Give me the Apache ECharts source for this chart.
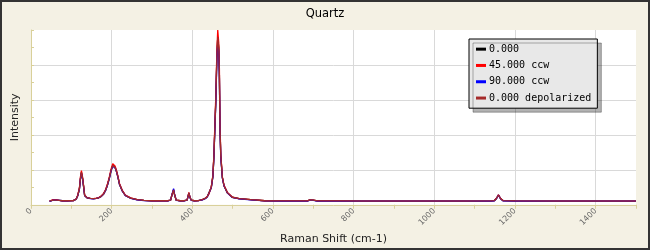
<!DOCTYPE html>
<html>
<head>
<meta charset="utf-8">
<script src="https://cdn.jsdelivr.net/npm/echarts@6/dist/echarts.min.js"></script>
<style>
html,body{margin:0;padding:0;background:#f4f1e4;}
#chart{width:650px;height:250px;}
</style>
</head>
<body>
<div id="chart"></div>
<script>
// Raman shift (cm-1)
const shift = [46,55,62,70,78,90,105,112,116,120,122.5,125,126.7,128.2,130.7,133,139,147,155,162,168,174,180,185,189,194.5,198.8,202.7,205,208.7,212,215,219.4,226,234,247,263,280,300,320,340,346,350,353.5,356,360,370,380,387,391.5,394,397.5,405,415,425,432,437,441,447,451,453.7,456,458,461,463,465.4,467,468.6,470.5,474.5,478.5,487,499,516,545,580,620,660,685,692,696,700,710,760,820,900,1000,1080,1140,1149,1154,1159,1164,1170,1200,1300,1400,1500];

const int0 = [2.1,2.6,2.6,2.5,2.3,2.3,2.4,3.2,5.3,9,14.8,18.5,17.4,14.6,9.9,5.3,4,3.6,3.5,3.7,4,4.8,6.2,8.3,10.9,15.5,19.8,22.5,22.8,21.2,19,16.4,11.8,8.1,5.3,3.8,2.9,2.5,2.3,2.3,2.3,2.6,6,8.5,5.7,2.6,2.3,2.3,2.6,6.8,4.3,2.6,2.3,2.4,2.9,3.6,4.6,5.7,9.9,16.4,28.7,45,58,86,96,90,76,44,28,15.5,10.9,6.8,4.3,3.5,2.9,2.3,2.2,2.2,2.2,2.8,3.6,2.6,2.2,2.2,2.1,2.1,2.1,2.1,2.2,2.4,3.6,5.6,3.6,2.4,2.2,2.1,2.1,2.1];

const int45 = [2.1,2.9,2.9,2.5,2.3,2.3,2.4,3.3,5.6,9.6,15.8,19.6,18.8,15.4,10.4,5.6,4.1,3.6,3.5,3.8,4.1,5,6.5,8.7,11.4,16.2,20.6,23.5,23.7,22,19.6,16.9,12.2,8.4,5.5,3.9,2.9,2.5,2.3,2.3,2.3,2.6,6.1,8.7,5.8,2.6,2.3,2.3,2.6,7,4.4,2.6,2.3,2.4,2.9,3.7,4.8,6,10.3,17,30,47,61,89,100,93,80,46,29,16,11.3,7,4.4,3.5,2.9,2.3,2.2,2.2,2.2,2.8,3.7,2.6,2.2,2.2,2.1,2.1,2.1,2.1,2.2,2.4,3.7,5.7,3.7,2.4,2.2,2.1,2.1,2.1];

const int90 = [2.0,2.6,2.6,2.5,2.3,2.2,2.4,3.2,5.2,8.8,14.4,18,17,14.2,9.6,5.2,4,3.5,3.4,3.7,4,4.7,6.1,8.2,10.7,15.3,19.5,22.2,22.4,21,18.8,16.2,11.6,8,5.2,3.7,2.8,2.4,2.2,2.2,2.2,2.6,6.2,9.2,5.9,2.5,2.2,2.2,2.6,6.6,4.2,2.5,2.2,2.4,2.8,3.5,4.5,5.6,9.7,16,28,44,57,84,93,88,74,43,27,15.2,10.7,6.7,4.2,3.4,2.8,2.2,2.1,2.1,2.1,2.7,3.5,2.5,2.1,2.1,2.0,2.0,2.0,2.0,2.1,2.3,3.5,5.5,3.5,2.3,2.1,2.0,2.0,2.0];

const intDepol = int0.slice();

const seriesNames = ['0.000','45.000 ccw','90.000 ccw','0.000 depolarized'];
const seriesColors = ['#000000','#ff0000','#0000ff','#a52a2a'];
const seriesValues = [int0,int45,int90,intDepol];

const chart = echarts.init(document.getElementById('chart'), null, {renderer:'canvas'});
const tan = '#d9d09a';
chart.setOption({
  animation:false,
  backgroundColor:'#f4f1e4',
  title:{text:'Quartz',left:'center',top:3,textStyle:{fontFamily:'DejaVu Sans',fontSize:11.5,fontWeight:'normal',color:'#000'}},
  grid:{left:31,right:14,top:30,bottom:41,show:true,backgroundColor:'#ffffff',borderWidth:0},
  legend:{
    orient:'vertical',left:469,top:39,
    data:seriesNames,
    icon:'rect',itemWidth:10,itemHeight:3,itemGap:4,
    padding:[4,6,4,7],
    backgroundColor:'#e8e8e8',borderColor:'#000',borderWidth:1,
    shadowColor:'rgba(0,0,0,0.3)',shadowBlur:0,shadowOffsetX:4,shadowOffsetY:4,
    textStyle:{fontFamily:'DejaVu Sans Mono',fontSize:10,color:'#000',lineHeight:12.3,padding:[0,0,0,-2]}
  },
  xAxis:{
    type:'value',min:0,max:1500,interval:200,
    name:'Raman Shift (cm-1)',nameLocation:'middle',nameGap:27,
    nameTextStyle:{fontFamily:'DejaVu Sans',fontSize:11,color:'#222'},
    axisLine:{show:true,lineStyle:{color:tan,width:1}},
    axisTick:{show:true,inside:false,length:4,lineStyle:{color:tan}},
    minorTick:{show:true,splitNumber:2,length:4,lineStyle:{color:tan}},
    axisLabel:{rotate:45,fontSize:8,color:'#666',fontFamily:'DejaVu Sans',margin:5,showMaxLabel:false,formatter:v=>String(v)},
    splitLine:{show:true,showMinLine:false,showMaxLine:false,lineStyle:{color:'#d9d9d9',width:1}}
  },
  yAxis:{
    type:'value',min:0,max:100,interval:20,
    name:'Intensity',nameLocation:'middle',nameGap:10,
    nameTextStyle:{fontFamily:'DejaVu Sans',fontSize:11,color:'#222'},
    axisLine:{show:true,lineStyle:{color:tan,width:1}},
    axisTick:{show:true,inside:true,length:3,lineStyle:{color:tan}},
    minorTick:{show:true,splitNumber:2,length:3,lineStyle:{color:tan}},
    axisLabel:{show:false},
    splitLine:{show:true,showMinLine:false,showMaxLine:false,lineStyle:{color:'#d9d9d9',width:1}}
  },
  graphic:[{type:'rect',shape:{x:1,y:1,width:648,height:248},style:{fill:'none',stroke:'#333',lineWidth:2},silent:true,z:100}],
  series:seriesNames.map((n,i)=>({
    name:n,type:'line',showSymbol:false,symbol:'none',
    data:shift.map((x,j)=>[x,seriesValues[i][j]]),
    lineStyle:{color:seriesColors[i],width:1.3},
    itemStyle:{color:seriesColors[i]}
  }))
});
</script>
</body>
</html>
